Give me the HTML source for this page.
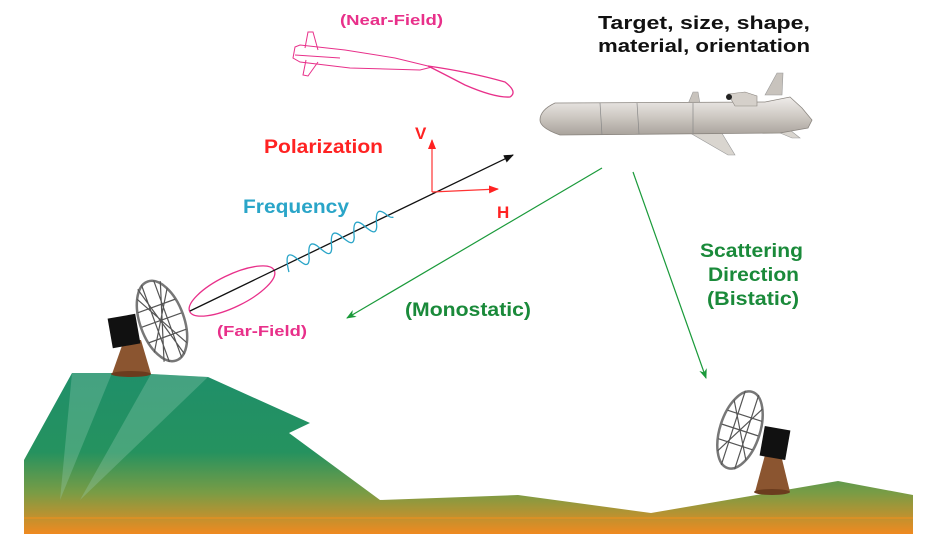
<!DOCTYPE html>
<html><head><meta charset="utf-8"><style>
html,body{margin:0;padding:0;background:#fff;}
svg{display:block;}
text{font-family:"Liberation Sans",Arial,sans-serif;font-weight:bold;}
</style></head><body>
<svg width="934" height="534" viewBox="0 0 934 534" xmlns="http://www.w3.org/2000/svg">
<defs>
<linearGradient id="g" gradientUnits="userSpaceOnUse" x1="0" y1="370" x2="0" y2="534">
<stop offset="0" stop-color="#1f8f6a"/>
<stop offset="0.5" stop-color="#25925f"/>
<stop offset="0.75" stop-color="#7a9c45"/>
<stop offset="1" stop-color="#f08a20"/>
</linearGradient>
<linearGradient id="mg" x1="0" y1="0" x2="0" y2="1">
<stop offset="0" stop-color="#efecea"/>
<stop offset="0.5" stop-color="#cfcac4"/>
<stop offset="1" stop-color="#a9a39c"/>
</linearGradient>
<marker id="ab" markerWidth="10" markerHeight="8" refX="9" refY="4" orient="auto" markerUnits="userSpaceOnUse"><path d="M0,0 L10,4 L0,8 Z" fill="#111"/></marker>
<marker id="ar" markerWidth="10" markerHeight="8" refX="9" refY="4" orient="auto" markerUnits="userSpaceOnUse"><path d="M0,0 L10,4 L0,8 Z" fill="#f22"/></marker>
<marker id="ag" markerWidth="10" markerHeight="8" refX="9" refY="4" orient="auto" markerUnits="userSpaceOnUse"><path d="M0,0 L10,4 L0,8 L3,4 Z" fill="#1a9a3a"/></marker>
</defs>

<!-- terrain -->
<path d="M24,534 L24,460 L72,373 L112,373 L151,374 L208,377 L310,423 L289,433 L380,500 L518,495 L651,513 L838,481 L913,495 L913,534 Z" fill="url(#g)"/>
<path d="M72,373 L112,373 L60,500 Z M151,374 L208,377 L80,500 Z" fill="#9ad0b8" opacity="0.3"/>
<line x1="24" y1="518" x2="913" y2="518" stroke="#f0901e" stroke-width="1"/>

<!-- left dish -->
<path d="M112,374 L151,374 L141,340 L124,340 Z" fill="#8b5530"/>
<ellipse cx="131" cy="374" rx="20" ry="3" fill="#6b3c1e"/>
<rect x="110" y="316" width="28" height="30" fill="#111" transform="rotate(-10 124 331)"/>
<g transform="rotate(-20 162 321)">
<ellipse cx="162" cy="321" rx="22" ry="42" fill="#fff" stroke="#777" stroke-width="2.5"/>
<path d="M146,292 L178,350 M178,292 L144,348 M141,320 L183,320 M150,283 L172,360 M174,283 L150,360 M155,280 L155,362 M168,280 L168,362 M142,305 L182,305 M142,337 L182,337" stroke="#555" stroke-width="1.2" fill="none"/>
</g>

<!-- right dish -->
<path d="M755,492 L790,492 L781,455 L765,455 Z" fill="#8b5530"/>
<ellipse cx="772" cy="492" rx="18" ry="3" fill="#6b3c1e"/>
<rect x="762" y="428" width="26" height="30" fill="#111" transform="rotate(10 775 443)"/>
<g transform="rotate(18 740 430)">
<ellipse cx="740" cy="430" rx="20" ry="40" fill="#fff" stroke="#777" stroke-width="2.5"/>
<path d="M725,403 L755,457 M755,403 L725,457 M721,430 L759,430 M733,391 L733,469 M747,391 L747,469 M722,415 L758,415 M722,445 L758,445" stroke="#555" stroke-width="1.2" fill="none"/>
</g>

<!-- gray missile -->
<path d="M688,104 L693,92 L698,92 L700,104 Z" fill="#c8c3bd" stroke="#999" stroke-width="0.6"/>
<path d="M765,95 L777,73 L783,73 L782,95 Z" fill="#c8c3bd" stroke="#999" stroke-width="0.6"/>
<path d="M685,130 L720,130 L735,155 L728,155 Z" fill="#d9d5cf" stroke="#999" stroke-width="0.6"/>
<path d="M773,130 L790,130 L800,138 L792,138 Z" fill="#d9d5cf" stroke="#999" stroke-width="0.6"/>
<path d="M555,103 L765,102 L790,97 L802,108 L812,120 L808,128 L780,133 L560,135 Q540,128 540,120 Q540,110 555,103 Z" fill="url(#mg)" stroke="#8a857f" stroke-width="0.8"/>
<path d="M728,94 L745,92 L757,96 L757,106 L735,106 Z" fill="#d5d0ca" stroke="#8a857f" stroke-width="0.6"/>
<ellipse cx="729" cy="97" rx="3" ry="3" fill="#222"/>
<path d="M600,103 L602,135 M637,103 L639,134 M693,103 L693,133" stroke="#888" stroke-width="0.7"/>

<!-- pink missile -->
<g fill="none" stroke="#e8308a" stroke-width="1">
<path d="M295,47 L300,45 L345,50 L395,58 L432,67 L420,70 L350,68 L300,62 L293,58 Z"/>
<path d="M305,48 L308,32 L313,32 L318,50 M306,60 L303,75 L308,76 L318,62 M295,55 L340,58"/>
<path d="M428,66 Q470,72 505,82 Q518,92 510,97 Q495,98 465,85 Q440,72 428,66 Z" stroke-width="1.3"/>
</g>

<!-- far-field lobe -->
<ellipse cx="232" cy="291" rx="47" ry="16" transform="rotate(-26 232 291)" fill="none" stroke="#e8308a" stroke-width="1.3"/>

<!-- main beam -->
<line x1="190" y1="311" x2="513" y2="155" stroke="#111" stroke-width="1.3" marker-end="url(#ab)"/>

<!-- wave -->
<g transform="translate(190 311) rotate(-25.8)">
<path d="M106,8 C109,-6 113,-12 118,-3 C122,6 125,14 130,5 C134,-6 138,-12 143,-3 C147,6 150,14 155,5 C159,-6 163,-12 168,-3 C172,6 175,14 180,5 C184,-6 188,-12 193,-3 C197,6 200,14 205,5 C209,-6 213,-12 218,-3 C220,2 222,4 224,4" fill="none" stroke="#2aa5c8" stroke-width="1.3"/>
</g>

<!-- V/H -->
<line x1="432" y1="192" x2="432" y2="140" stroke="#f33" stroke-width="1.2" marker-end="url(#ar)"/>
<line x1="432" y1="192" x2="498" y2="189" stroke="#f33" stroke-width="1.2" marker-end="url(#ar)"/>

<!-- green arrows -->
<line x1="602" y1="168" x2="347" y2="318" stroke="#1a9a3a" stroke-width="1.2" marker-end="url(#ag)"/>
<line x1="633" y1="172" x2="706" y2="378" stroke="#1a9a3a" stroke-width="1.2" marker-end="url(#ag)"/>

<!-- labels -->
<text x="340" y="25" fill="#e8308a" font-size="15" textLength="103" lengthAdjust="spacingAndGlyphs">(Near-Field)</text>
<text x="598" y="29" fill="#111" font-size="18" textLength="212" lengthAdjust="spacingAndGlyphs">Target,  size,  shape,</text>
<text x="598" y="52" fill="#111" font-size="18" textLength="212" lengthAdjust="spacingAndGlyphs">material,  orientation</text>
<text x="264" y="153" fill="#f22" font-size="19" textLength="119" lengthAdjust="spacingAndGlyphs">Polarization</text>
<text x="415" y="139" fill="#f22" font-size="17">V</text>
<text x="497" y="218" fill="#f22" font-size="17">H</text>
<text x="243" y="213" fill="#2aa5c8" font-size="19" textLength="106" lengthAdjust="spacingAndGlyphs">Frequency</text>
<text x="217" y="336" fill="#e8308a" font-size="15" textLength="90" lengthAdjust="spacingAndGlyphs">(Far-Field)</text>
<text x="405" y="316" fill="#1a8a3a" font-size="19" textLength="126" lengthAdjust="spacingAndGlyphs">(Monostatic)</text>
<text x="700" y="257" fill="#1a8a3a" font-size="19" textLength="103" lengthAdjust="spacingAndGlyphs">Scattering</text>
<text x="708" y="281" fill="#1a8a3a" font-size="19" textLength="91" lengthAdjust="spacingAndGlyphs">Direction</text>
<text x="707" y="305" fill="#1a8a3a" font-size="19" textLength="92" lengthAdjust="spacingAndGlyphs">(Bistatic)</text>
</svg>
</body></html>
